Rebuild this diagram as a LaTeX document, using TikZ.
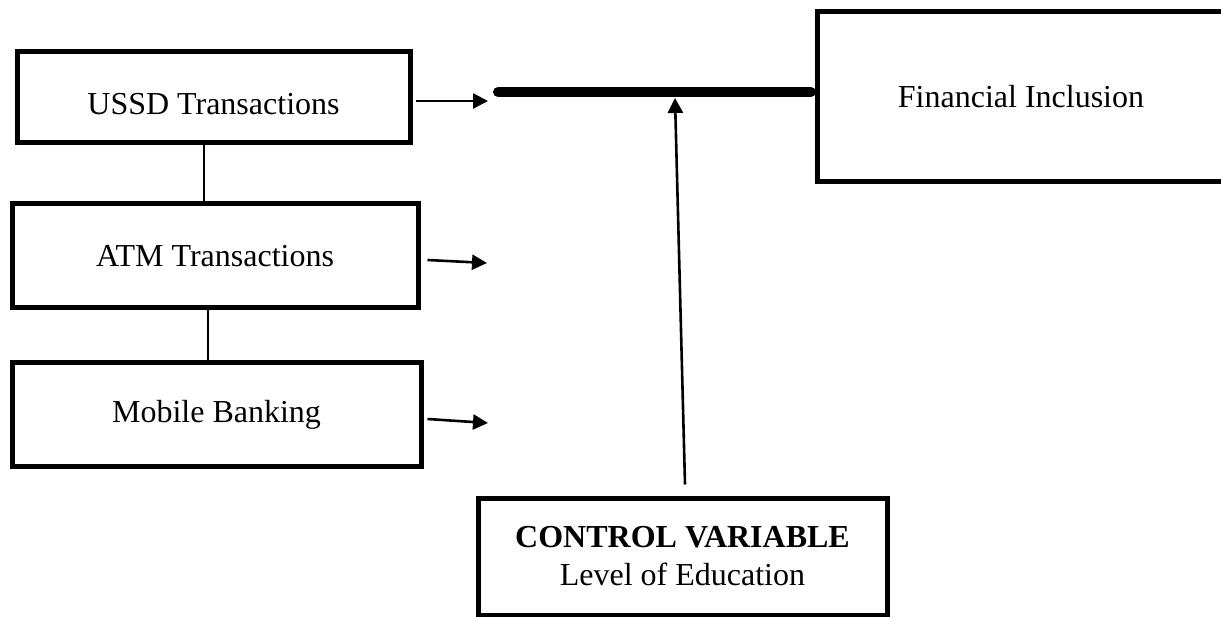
\documentclass[tikz,border=0pt]{standalone}
\usepackage{fontspec}
\setmainfont{Liberation Serif}
\usetikzlibrary{arrows.meta, positioning, calc}

\begin{document}
\begin{tikzpicture}[x=1pt, y=-1pt, >={Triangle[length=15pt, width=15pt]},
    varbox/.style={draw, line width=5pt, inner sep=0pt, align=center,
      font=\fontsize{32}{38}\selectfont},
    link/.style={line width=2.8pt},
    flow/.style={->, line width=2.6pt}]
  \useasboundingbox (0,0) rectangle (1221,617);
  \clip (0,0) rectangle (1221,617);

  % independent variables
  \node[varbox, minimum width=393pt, minimum height=91pt, text height=34pt] (ussd) at (213.5,97.5) {USSD Transactions};
  \node[varbox, minimum width=406pt, minimum height=104pt] (atm) at (215,256) {ATM Transactions};
  \node[varbox, minimum width=409pt, minimum height=103pt] (mob) at (216.5,414.5) {Mobile Banking};

  % dependent variable (runs off the right edge)
  \node[varbox, minimum width=408pt, minimum height=170pt] (fin) at (1021,97) {Financial Inclusion};

  % control variable
  \node[varbox, minimum width=409pt, minimum height=117pt] (ctrl) at (682.5,556.5)
    {\textbf{CONTROL VARIABLE}\\Level of Education};

  \coordinate (barL) at (498,92);
  \coordinate (ussdEnd) at (488,101);
  \coordinate (atmEnd) at (487,263);
  \coordinate (mobEnd) at (488,423);
  \coordinate (ctrlHead) at (675,98);

  % links between the boxes on the left
  \draw[link] ([xshift=-9.5pt, yshift=5pt]ussd.south) -- ([xshift=-9.5pt]ussd.south |- atm.north);
  \draw[link] ([xshift=-7pt, yshift=4pt]atm.south) -- ([xshift=-7pt]atm.south |- mob.north);

  % arrows to the main bar
  \draw[flow] ([xshift=3pt]ussd.east |- ussdEnd) -- (ussdEnd);
  \draw[flow] ([shift={(7pt,-4pt)}]atm.east) -- (atmEnd);
  \draw[flow] ([shift={(4pt,-4.5pt)}]mob.east) -- (mobEnd);

  % main bar into financial inclusion
  \draw[line width=10pt, line cap=round, -{Triangle[length=4pt, width=12pt, round]}] (barL) -- (barL -| fin.west);

  % moderating effect of the control variable
  \draw[flow] ([shift={(2.5pt,11pt)}]ctrl.north) -- (ctrlHead);
\end{tikzpicture}
\end{document}
